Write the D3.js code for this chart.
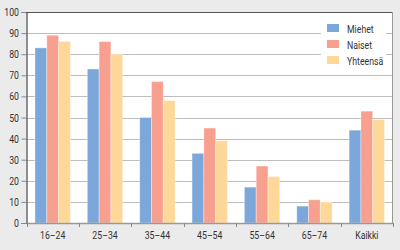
<!DOCTYPE html>
<html>
<head>
<meta charset="utf-8">
<script src="https://cdn.jsdelivr.net/npm/d3@7"></script>
<style>
  body { margin: 0; background: #ebebeb; }
  svg { display: block; }
  text { font-family: Roboto, "DejaVu Sans", sans-serif; font-size: 11.5px; fill: #333; }
</style>
</head>
<body>
<svg width="400" height="250"></svg>
<script>
const categories = ["16–24", "25–34", "35–44", "45–54", "55–64", "65–74", "Kaikki"];
const seriesNames = ["Miehet", "Naiset", "Yhteensä"];
const miehet = [83, 73, 50, 33, 17, 8, 44];
const naiset = [89, 86, 67, 45, 27, 11, 53];
const yhteensa = [86, 80, 58, 39, 22, 10, 49];
const yTicks = [0, 10, 20, 30, 40, 50, 60, 70, 80, 90, 100];
const colors = ["#7ba7da", "#f8a08f", "#fed899"];

const values = [miehet, naiset, yhteensa];
const svg = d3.select("svg");
const m = {left: 26.5, right: 393, top: 12, bottom: 223};
const narrow = 0.76; // squeeze text to look like a condensed face

const x = d3.scaleBand().domain(categories).range([m.left, m.right]).paddingInner(0).paddingOuter(0);
const xs = d3.scaleBand().domain(seriesNames).range([0, x.bandwidth()]).paddingInner(0).paddingOuter(0.72);
const y = d3.scaleLinear().domain([0, 100]).range([m.bottom, m.top]);

// plot area
svg.append("rect")
  .attr("x", m.left).attr("y", m.top)
  .attr("width", m.right - m.left).attr("height", m.bottom - m.top)
  .attr("fill", "#fff");

// grid
svg.append("g").selectAll("line")
  .data(yTicks.slice(1, -1))
  .join("line")
    .attr("x1", m.left).attr("x2", m.right)
    .attr("y1", d => Math.round(y(d)) + 0.5).attr("y2", d => Math.round(y(d)) + 0.5)
    .attr("stroke", "#bdbdbd");

// legend box covers grid
svg.append("rect").attr("x", 321).attr("y", 20).attr("width", 65).attr("height", 50).attr("fill", "#fff");

// bars
categories.forEach((c, i) => {
  svg.append("g").selectAll("rect")
    .data(seriesNames.map((s, j) => ({s, v: values[j][i], j})))
    .join("rect")
      .attr("x", d => x(c) + xs(d.s))
      .attr("y", d => y(d.v))
      .attr("width", xs.bandwidth())
      .attr("height", d => y(0) - y(d.v))
      .attr("fill", d => colors[d.j])
      .attr("stroke", "rgba(255,255,255,0.35)")
      .attr("stroke-width", 1);
});

// borders
svg.append("line").attr("x1", m.left).attr("x2", m.right).attr("y1", m.top + 0.5).attr("y2", m.top + 0.5).attr("stroke", "#555");
svg.append("line").attr("x1", m.right - 0.5).attr("x2", m.right - 0.5).attr("y1", m.top).attr("y2", m.bottom).attr("stroke", "#999");

// y axis
const yAxis = svg.append("g")
  .attr("transform", `translate(${m.left},0)`)
  .call(d3.axisLeft(y).tickValues(yTicks).tickSize(5).tickFormat(""));
yAxis.select(".domain").attr("stroke", "#222");
yAxis.selectAll(".tick line").attr("stroke", "#888");
svg.append("g").selectAll("text")
  .data(yTicks)
  .join("text")
    .attr("transform", d => `translate(19,${y(d) + 4}) scale(${narrow},1)`)
    .attr("text-anchor", "end")
    .text(d => d);

// x axis
const xAxis = svg.append("g").attr("transform", `translate(0,${m.bottom})`);
xAxis.append("line").attr("x1", m.left).attr("x2", m.right).attr("y1", 0.5).attr("y2", 0.5).attr("stroke", "#999").attr("stroke-width", 1.5);
xAxis.selectAll("line.t")
  .data(categories.map(c => x(c)).concat([m.right]))
  .join("line")
    .attr("class", "t")
    .attr("x1", d => Math.round(d) + 0.5).attr("x2", d => Math.round(d) + 0.5)
    .attr("y1", 0).attr("y2", 4)
    .attr("stroke", "#888");
xAxis.selectAll("text")
  .data(categories)
  .join("text")
    .attr("transform", d => `translate(${x(d) + x.bandwidth() / 2},15.5) scale(${narrow},1)`)
    .attr("text-anchor", "middle")
    .text(d => d);

// legend
const lg = svg.append("g").selectAll("g")
  .data(seriesNames)
  .join("g")
    .attr("transform", (d, i) => `translate(327,${24 + i * 16})`);
lg.append("rect").attr("width", 12).attr("height", 8).attr("fill", (d, i) => colors[i]);
lg.append("text").attr("transform", `translate(20,8.5) scale(${narrow},1)`).text(d => d);
</script>
</body>
</html>
